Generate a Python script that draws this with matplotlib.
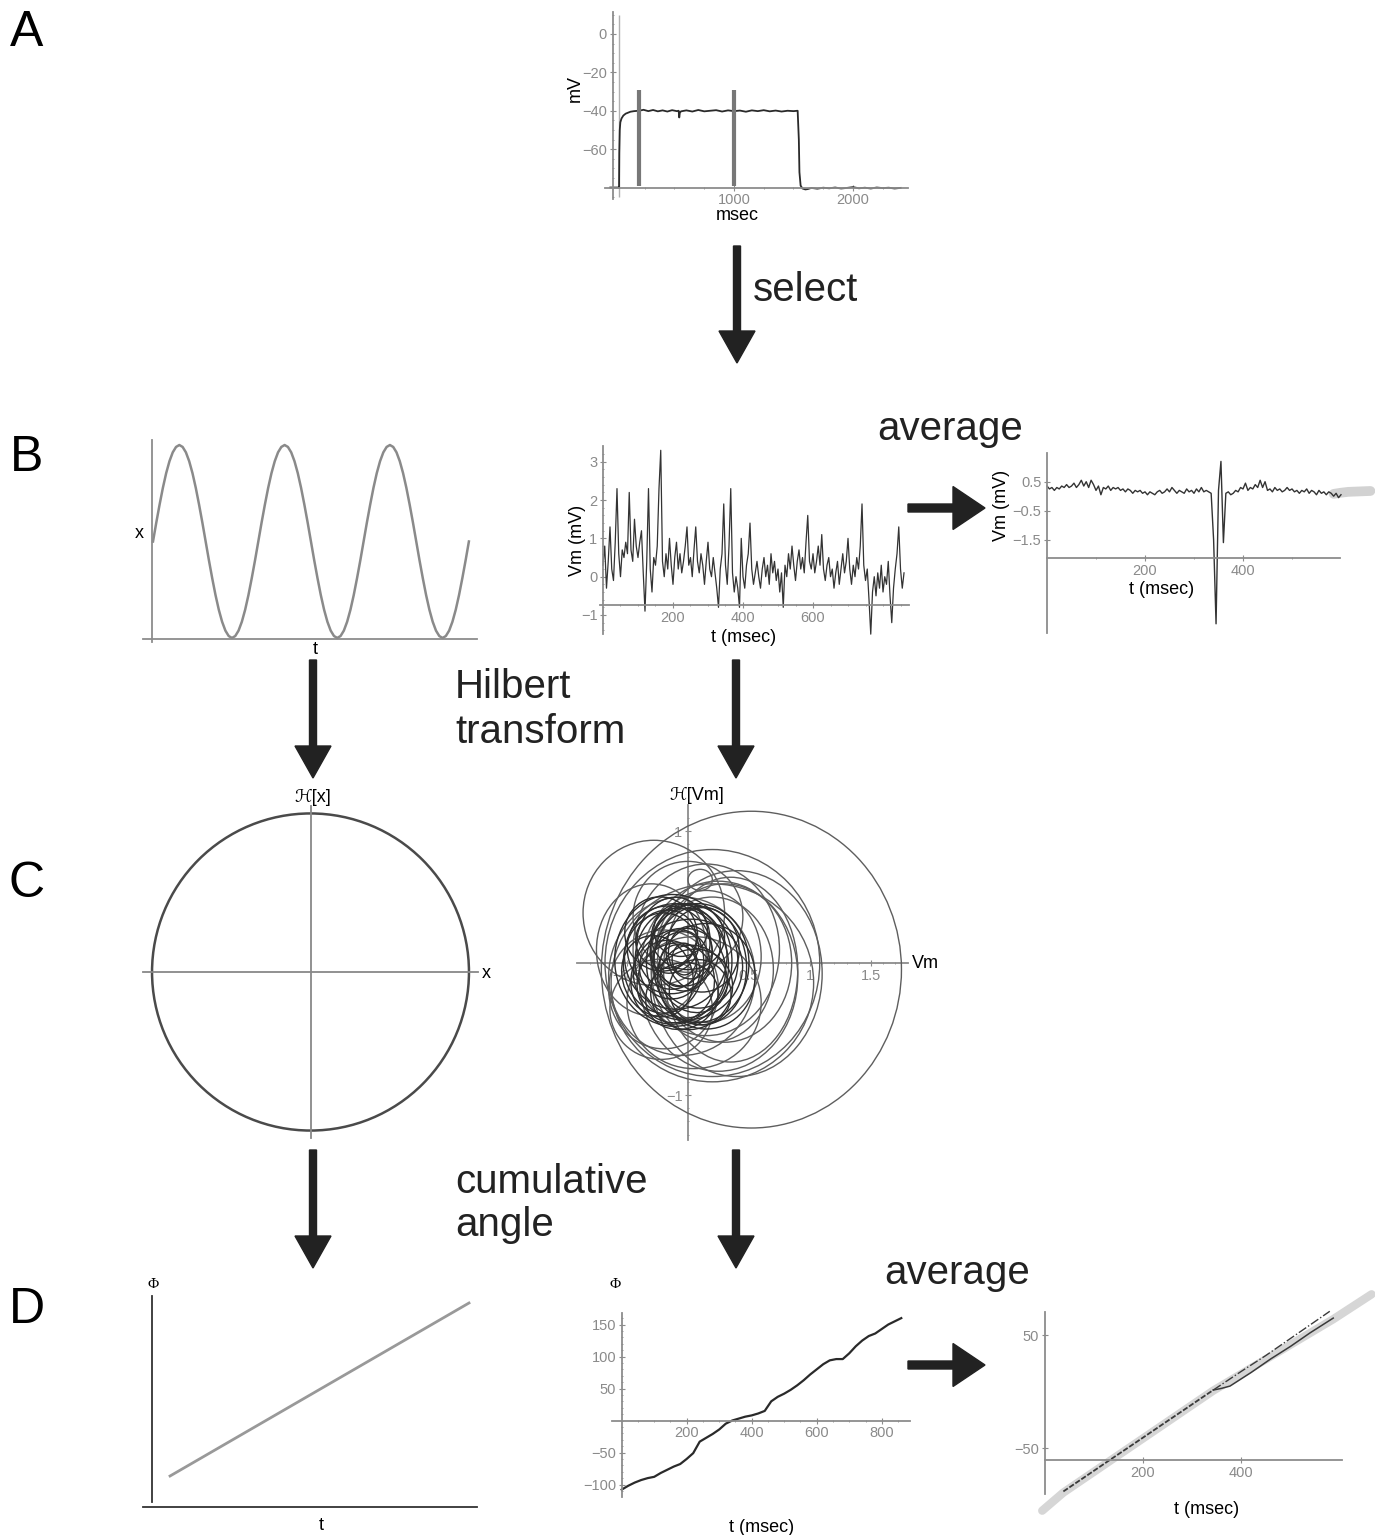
import matplotlib.pyplot as plt
import numpy as np
from matplotlib.patches import Circle, Ellipse, FancyArrow

plt.rcParams['font.family'] = ['Liberation Sans', 'DejaVu Sans']

W, H = 1383, 1535
GRAY = '#8c8c8c'
TICK = '#8a8a8a'

# ---- data ----
# A: current-step voltage trace
tA = [-40, 30, 34, 36, 40, 45, 55, 70, 90, 110,
      130, 160, 200, 240, 280, 320, 360, 400, 440, 480,
      520, 535, 540, 545, 555, 600, 650, 700, 750, 800,
      850, 900, 950, 1000, 1050, 1100, 1150, 1200, 1250, 1300,
      1350, 1400, 1450, 1500, 1535, 1545, 1550, 1560, 1575, 1600,
      1620, 1650, 1700, 1750, 1800, 1850, 1900, 1950, 2000, 2050,
      2100, 2150, 2200, 2250, 2300, 2350, 2400]
vA = [-80, -80, -80, -62, -50, -46, -44, -42.5, -41.5, -41,
      -40.5, -40.2, -40, -39.5, -40.2, -39.6, -40.3, -39.8, -40.4, -39.7,
      -40.2, -40, -43.5, -41, -40.3, -39.8, -40.4, -39.6, -40.3, -40,
      -39.7, -40.4, -39.8, -40.2, -39.9, -40.5, -39.8, -40.2, -39.7, -40.3,
      -39.9, -40.4, -40, -40.2, -40, -55, -72, -79, -80.5, -81,
      -80.8, -80.2, -80.6, -80.1, -80.4, -80, -80.5, -80.2, -79.8, -80.4,
      -80.1, -80.5, -80, -80.3, -80.1, -80.5, -80.2]
spike_t = 35
sel_t = [200, 1000]

# B left: periodic signal, one period in 32 samples, three periods shown
period = [0.5, 0.598, 0.691, 0.778, 0.854, 0.916, 0.962, 0.990,
          1.0, 0.990, 0.962, 0.916, 0.854, 0.778, 0.691, 0.598,
          0.5, 0.402, 0.309, 0.222, 0.146, 0.084, 0.038, 0.010,
          0.0, 0.010, 0.038, 0.084, 0.146, 0.222, 0.309, 0.402]
sine_x = period * 3 + [0.5]

# B middle: selected Vm segment, 5 msec samples
vm = [0.3, 0.8, -0.3, 0.4, 1.3, 0.2, -0.1, 0.9, 2.3, 0.6,
      0.0, 0.7, 0.5, 0.9, 0.6, 2.2, 0.7, 0.4, 1.5, 0.8,
      0.5, 0.9, 1.2, 0.1, -0.9, 0.4, 2.3, 0.2, -0.4, 0.5,
      0.3, 0.8, 2.3, 3.3, 0.4, 0.0, 0.6, 0.2, 1.0, 0.3,
      -0.2, 0.5, 0.9, 0.2, 0.6, 0.1, 0.4, 0.8, 1.3, 0.3,
      0.5, 0.0, 0.7, 1.3, 0.4, 0.1, 0.6, 0.3, -0.2, 0.4,
      0.9, 0.2, 0.0, 0.5, 0.1, -0.3, -0.8, 0.2, 0.6, 1.9,
      0.3, -0.2, 0.8, 2.3, 0.1, -0.4, 0.0, -0.3, -0.8, 1.0,
      0.0, -0.3, 0.3, 0.6, 1.4, 0.2, -0.2, 0.1, 0.4, 0.0,
      -0.3, 0.2, 0.5, 0.0, 0.3, -0.2, 0.6, 0.1, 0.4, -0.1,
      0.2, -0.4, 0.1, -0.8, 0.3, 0.0, 0.6, 0.2, 0.8, 0.3,
      -0.1, 0.4, 0.7, 0.2, 0.5, 0.1, 0.9, 1.6, 0.4, 0.2,
      0.6, 0.1, 0.4, 0.8, 0.3, 1.1, 0.2, -0.1, 0.3, 0.5,
      0.0, 0.2, -0.3, 0.1, 0.4, -0.2, 0.2, 0.6, 0.1, 0.4,
      1.0, 0.2, -0.2, 0.3, 0.0, 0.5, 0.2, 0.8, 1.9, 0.3,
      -0.1, 0.2, -0.6, -1.5, -0.4, 0.0, -0.5, 0.1, -0.3, 0.3,
      -0.4, 0.0, -0.2, 0.4, -0.5, -1.2, -0.3, 0.2, 0.6, 1.3,
      0.2, -0.3, 0.1]

# B right: averaged Vm, 5 msec samples
avg = [0.35, 0.25, 0.3, 0.2, 0.3, 0.25, 0.35, 0.3, 0.4, 0.3,
       0.35, 0.45, 0.3, 0.4, 0.55, 0.35, 0.5, 0.3, 0.55, 0.4,
       0.2, 0.35, 0.05, 0.3, 0.25, 0.35, 0.2, 0.3, 0.25, 0.3,
       0.2, 0.25, 0.15, 0.25, 0.2, 0.1, 0.2, 0.15, 0.2, 0.1,
       0.15, 0.05, 0.15, 0.1, 0.05, 0.15, 0.2, 0.1, 0.15, 0.25,
       0.15, 0.3, 0.2, 0.1, 0.2, 0.15, 0.1, 0.25, 0.15, 0.2,
       0.1, 0.25, 0.15, 0.3, 0.15, 0.2, 0.15, 0.1, -1.5, -4.4,
       0.2, 1.2, -1.6, 0.1, 0.15, 0.05, 0.1, 0.2, 0.15, 0.3,
       0.25, 0.45, 0.2, 0.3, 0.25, 0.4, 0.3, 0.55, 0.3, 0.5,
       0.2, 0.25, 0.15, 0.3, 0.2, 0.25, 0.15, 0.2, 0.3, 0.2,
       0.25, 0.15, 0.2, 0.1, 0.2, 0.15, 0.25, 0.1, 0.2, 0.15,
       0.05, 0.2, 0.1, 0.15, 0.05, 0.15, 0.1, 0.0, 0.1, -0.05,
       0.05]
tail_t = [585, 600, 615, 630, 645, 660]
tail_v = [0.08, 0.12, 0.15, 0.16, 0.17, 0.18]

# C middle: loops of the Hilbert trajectory (centre, semi-axes, tilt)
core_cx = [-0.10, -0.05, -0.15, 0.00, -0.08, -0.12, 0.05, -0.20, -0.02, -0.10, 0.10, -0.05, -0.15,
           0.02, -0.08, 0.05, -0.18, 0.00, -0.25, 0.12, -0.05, 0.08, -0.12, 0.15, -0.03, -0.10,
           -0.22, 0.03, -0.06, 0.10]
core_cy = [0.05, 0.00, 0.10, -0.05, -0.10, 0.15, 0.05, 0.00, 0.12, -0.15, -0.02, 0.02, -0.05,
           0.08, -0.02, -0.12, 0.18, 0.20, -0.10, 0.10, -0.25, 0.00, 0.02, -0.10, 0.03, 0.08,
           0.22, -0.20, 0.25, -0.22]
core_rx = [0.42, 0.38, 0.35, 0.45, 0.40, 0.30, 0.35, 0.33, 0.28, 0.32, 0.38, 0.22, 0.25,
           0.18, 0.15, 0.28, 0.25, 0.30, 0.28, 0.30, 0.30, 0.42, 0.48, 0.40, 0.10, 0.20,
           0.30, 0.34, 0.22, 0.26]
core_ry = [0.40, 0.42, 0.33, 0.38, 0.35, 0.35, 0.40, 0.38, 0.30, 0.30, 0.45, 0.24, 0.22,
           0.20, 0.16, 0.25, 0.22, 0.25, 0.32, 0.32, 0.25, 0.45, 0.50, 0.40, 0.12, 0.14,
           0.28, 0.30, 0.20, 0.24]
core_ang = [0, 15, -20, 10, 30, -10, 25, 0, -30, 20, 5, 40, -15, 0, 20, -25, 10, 0, 35, -5, 15, 0, 10, -20, 0, 30,
            -15, 20, 0, -35]

outer_cx = [0.52, -0.28, 0.20, 0.20, 0.35, 0.30, 0.20, 0.15, 0.00, -0.05, -0.20, 0.10, 0.25, 0.15, -0.30,
            -0.22, 0.40, 0.05]
outer_cy = [-0.05, 0.38, 0.00, -0.15, -0.05, 0.00, -0.05, 0.05, 0.35, -0.10, -0.20, 0.63, -0.10, 0.10, 0.10,
            -0.35, -0.08, -0.30]
outer_rx = [1.23, 0.58, 0.88, 0.83, 0.55, 0.55, 0.50, 0.45, 0.45, 0.60, 0.45, 0.10, 0.65, 0.60, 0.45,
            0.42, 0.70, 0.55]
outer_ry = [1.20, 0.55, 0.86, 0.75, 0.70, 0.60, 0.55, 0.50, 0.42, 0.60, 0.45, 0.08, 0.72, 0.65, 0.50,
            0.38, 0.78, 0.50]

# D middle: cumulative angle
phi_t = [0, 20, 40, 60, 80, 100, 120, 140, 160, 180,
         200, 220, 240, 260, 280, 300, 320, 340, 360, 380,
         400, 420, 440, 460, 480, 500, 520, 540, 560, 580,
         600, 620, 640, 660, 680, 700, 720, 740, 760, 780,
         800, 820, 840, 860]
phi_v = [-108, -102, -97, -93, -90, -88, -82, -77, -72, -68,
         -60, -51, -33, -27, -21, -14, -5, 0, 3, 6,
         8, 11, 15, 30, 37, 42, 48, 55, 63, 72,
         80, 88, 94, 96, 96, 105, 116, 125, 132, 136,
         143, 150, 155, 160]

# D right: averaged cumulative angle
dark_t = [38, 80, 120, 160, 200, 240, 280, 320, 343]
dark_v = [-88, -75.7, -63.9, -52.2, -40.5, -28.7, -17, -5.2, 1.5]
solid_t = [343, 360, 377, 420, 460, 500, 540, 587]
solid_v = [1.5, 3, 5, 17, 29, 40, 52, 65]
dd_t = [343, 400, 450, 500, 550, 580]
dd_v = [1.5, 18, 32, 47, 62, 71]
grey_t = [-5, 38, 343, 587, 665]
grey_v = [-105, -89, 1, 64, 86]


fig = plt.figure(figsize=(W / 100, H / 100), dpi=100)

# overlay in pixel units for labels and arrows
ov = fig.add_axes([0, 0, 1, 1])
ov.set_xlim(0, W)
ov.set_ylim(H, 0)
ov.axis('off')


def px_axes(x0, y0, x1, y1):
    return fig.add_axes([x0 / W, 1 - y1 / H, (x1 - x0) / W, (y1 - y0) / H])


def m_axes(rect, xlim, ylim, x0, y0, xb, yb, color=GRAY):
    # Mathematica style axes crossing at (x0, y0)
    ax = px_axes(*rect)
    ax.patch.set_alpha(0)
    ax.set_xlim(xlim)
    ax.set_ylim(ylim)
    ax.spines['top'].set_visible(False)
    ax.spines['right'].set_visible(False)
    ax.spines['left'].set_position(('data', x0))
    ax.spines['bottom'].set_position(('data', y0))
    ax.spines['left'].set_bounds(*yb)
    ax.spines['bottom'].set_bounds(*xb)
    for s in ('left', 'bottom'):
        ax.spines[s].set_color(color)
        ax.spines[s].set_linewidth(1.3)
    ax.tick_params(which='both', color=color, labelcolor=TICK, labelsize=10.5, direction='inout', pad=2)
    ax.tick_params(which='major', length=4, width=0.8)
    ax.tick_params(which='minor', length=2, width=0.6)
    return ax


def no_ticks(ax):
    ax.set_xticks([])
    ax.set_yticks([])


# ---- A ----
ax = m_axes((600, 10, 912, 200), (-126, 2496), (-86.5, 12.5), -20, -80, (-84, 2462), (-86, 11.5))
ax.vlines(spike_t, -85, 10, color='#b0b0b0', lw=1)
ax.plot(tA, vA, color='#2a2a2a', lw=1.3)
ax.vlines(sel_t, -79, -29, color='#777777', lw=3)
ax.set_xticks([1000, 2000])
ax.set_xticks(np.arange(250, 2450, 250), minor=True)
ax.set_yticks([0, -20, -40, -60])
ax.set_yticks(np.arange(-85, 11, 5), minor=True)

# ---- B left ----
ax = m_axes((143, 440, 477, 642), (-0.095, 3.077), (-0.021, 1.026), -0.01, -0.004, (-0.095, 3.077), (-0.021, 1.026))
ax.plot(np.arange(len(sine_x)) / len(period), sine_x, color='#8a8a8a', lw=1.8)
no_ticks(ax)

# ---- B middle ----
ax = m_axes((590, 440, 910, 640), (-37.1, 877.1), (-1.653, 3.569), 0, -0.74, (-8, 874), (-1.5, 3.4))
ax.plot(5 * np.arange(len(vm)), vm, color='#333333', lw=0.9)
ax.set_xticks([200, 400, 600])
ax.set_xticks(np.arange(50, 870, 50), minor=True)
ax.set_yticks([-1, 0, 1, 2, 3])
ax.set_yticks(np.arange(-1.4, 3.4, 0.2), minor=True)

# ---- B right ----
ax = m_axes((1040, 450, 1375, 635), (-14.3, 669.4), (-4.786, 1.593), 0, -2.14, (0, 598), (-4.73, 1.5))
ax.plot(tail_t, tail_v, color='#d2d2d2', lw=7, solid_capstyle='round')
ax.plot(5 * np.arange(len(avg)), avg, color='#333333', lw=1)
ax.set_xticks([200, 400])
ax.set_xticks(np.arange(100, 600, 100), minor=True)
ax.set_yticks([0.5, -0.5, -1.5])

# ---- C left ----
ax = m_axes((143, 806, 478, 1138), (-1.057, 1.057), (-1.047, 1.047), 0, 0, (-1.057, 1.057), (-1.047, 1.047),
            color='#888888')
ax.add_patch(Circle((0, 0), 1.0, fill=False, ec='#4a4a4a', lw=1.8))
no_ticks(ax)

# ---- C middle ----
ax = m_axes((575, 790, 910, 1142), (-0.926, 1.820), (-1.356, 1.311), 0, 0, (-0.91, 1.80), (-1.34, 1.20))
for cx, cy, rx, ry in zip(outer_cx, outer_cy, outer_rx, outer_ry):
    ax.add_patch(Ellipse((cx, cy), 2 * rx, 2 * ry, fill=False, ec='#5e5e5e', lw=1.0, zorder=3))
for cx, cy, rx, ry, a in zip(core_cx, core_cy, core_rx, core_ry, core_ang):
    ax.add_patch(Ellipse((cx, cy), 2 * rx, 2 * ry, angle=a, fill=False, ec='#2e2e2e', lw=1.0, zorder=3))
ax.set_xticks([-0.5, 0.5, 1, 1.5], ['\u22120.5', '0.5', '1', '1.5'])
ax.set_xticks(np.arange(-0.8, 1.8, 0.1), minor=True)
ax.set_yticks([-1, 1], ['\u22121', '1'])
ax.set_yticks(np.arange(-1.3, 1.2, 0.1), minor=True)

# ---- D left ----
ax = m_axes((143, 1290, 477, 1510), (-0.27, 9.73), (-0.15, 10.85), 0, 0, (-0.27, 9.73), (0.25, 10.55),
            color='#333333')
ax.plot([0.54, 9.49], [1.55, 10.2], color='#999999', lw=2)
no_ticks(ax)

# ---- D middle ----
ax = m_axes((612, 1305, 912, 1500), (-29.8, 893), (-124.2, 180.5), 0, 0, (-30, 887), (-119.5, 168))
ax.plot(phi_t, phi_v, color='#2a2a2a', lw=1.6)
ax.set_xticks([200, 400, 600, 800])
ax.set_xticks(np.arange(50, 880, 50), minor=True)
ax.set_yticks([-100, -50, 50, 100, 150])
ax.set_yticks(np.arange(-110, 170, 10), minor=True)

# ---- D right ----
ax = m_axes((1035, 1290, 1375, 1515), (-19.7, 672), (-108.8, 89.8), 0, -60.3, (0, 604), (-90, 70.6))
ax.plot(grey_t, grey_v, color='#d6d6d6', lw=6, solid_capstyle='round')
ax.plot(dark_t, dark_v, color='#3a3a3a', lw=1.3, ls=(0, (3, 1)))
ax.plot(solid_t, solid_v, color='#3a3a3a', lw=1.1)
ax.plot(dd_t, dd_v, color='#3a3a3a', lw=1.0, ls='-.')
ax.set_xticks([200, 400])
ax.set_yticks([50, -50])

# ---- labels ----
for s, y in [('A', 33), ('B', 458), ('C', 884), ('D', 1310)]:
    ov.text(27, y, s, fontsize=36, ha='center', va='center')

big = dict(fontsize=29, ha='left', va='baseline', color='#222222')
ov.text(753, 301, 'select', **big)
ov.text(877, 440, 'average', **big)
ov.text(455, 698, 'Hilbert', **big)
ov.text(455, 743, 'transform', **big)
ov.text(455, 1193, 'cumulative', **big)
ov.text(455, 1236, 'angle', **big)
ov.text(884, 1284, 'average', **big)

lab = dict(fontsize=13, ha='center', va='center')
ov.text(575, 88, 'mV', rotation=90, **lab)
ov.text(737, 215, 'msec', **lab)
ov.text(139, 533, 'x', **lab)
ov.text(315, 650, 't', **lab)
ov.text(578, 540, 'Vm (mV)', rotation=90, **lab)
ov.text(744, 637, 't (msec)', **lab)
ov.text(1002, 505, 'Vm (mV)', rotation=90, **lab)
ov.text(1162, 590, 't (msec)', **lab)
ov.text(486, 973, 'x', **lab)
ov.text(313, 797, '\u210b[x]', **lab)
ov.text(697, 795, '\u210b[Vm]', **lab)
ov.text(925, 963, 'Vm', **lab)
ov.text(153, 1284, '\u03a6', fontsize=11, ha='center', va='center', family='Liberation Serif')
ov.text(615, 1285, '\u03a6', fontsize=11, ha='center', va='center', family='Liberation Serif')
ov.text(321, 1525, 't', **lab)
ov.text(762, 1527, 't (msec)', **lab)
ov.text(1207, 1510, 't (msec)', **lab)

# ---- arrows ----
arr = dict(width=7, head_width=36, head_length=32, length_includes_head=True, color='#222222')
for x, y0, y1 in [(737, 246, 363), (313, 660, 778), (736, 660, 778), (313, 1150, 1268), (736, 1150, 1268)]:
    ov.add_patch(FancyArrow(x, y0, 0, y1 - y0, **arr))
arr_r = dict(width=8, head_width=43, head_length=32, length_includes_head=True, color='#222222')
for y in [508, 1365]:
    ov.add_patch(FancyArrow(908, y, 77, 0, **arr_r))

plt.savefig('out.png', dpi=100)
